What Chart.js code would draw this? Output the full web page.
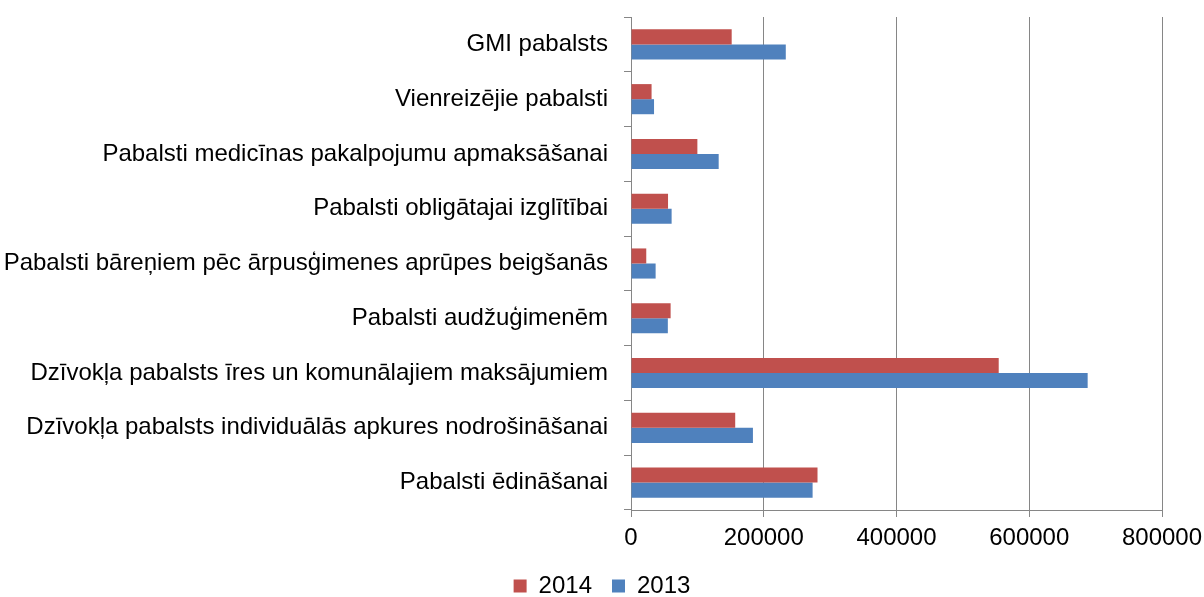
<!DOCTYPE html>
<html>
<head>
<meta charset="utf-8">
<script src="https://cdn.jsdelivr.net/npm/chart.js@4/dist/chart.umd.min.js"></script>
<style>
  html, body { margin: 0; padding: 0; background: #fff; }
  #wrap { width: 1204px; height: 597px; }
</style>
</head>
<body>
<div id="wrap"><canvas id="chart" width="1204" height="597"></canvas></div>
<script>
const categories = [
  "GMI pabalsts",
  "Vienreizējie pabalsti",
  "Pabalsti medicīnas pakalpojumu apmaksāšanai",
  "Pabalsti obligātajai izglītībai",
  "Pabalsti bāreņiem pēc ārpusģimenes aprūpes beigšanās",
  "Pabalsti audžuģimenēm",
  "Dzīvokļa pabalsts īres un komunālajiem maksājumiem",
  "Dzīvokļa pabalsts individuālās apkures nodrošināšanai",
  "Pabalsti ēdināšanai"
];
const values2014 = [151700, 31000, 100000, 55800, 23000, 59700, 554000, 157000, 281000];
const values2013 = [233200, 34700, 132100, 61200, 37100, 55500, 688000, 183700, 273600];
const seriesNames = ["2014", "2013"];
const xTicks = [0, 200000, 400000, 600000, 800000];

const FONT = "'Liberation Sans', Arial, sans-serif";
const GRID = "#868686";

// 🟢 CHART
const ctx = document.getElementById("chart");
window.chart = new Chart(ctx, {
  type: "bar",
  data: {
    labels: categories,
    datasets: [
      { label: seriesNames[0], data: values2014, backgroundColor: "#C0504D" },
      { label: seriesNames[1], data: values2013, backgroundColor: "#4F81BD" }
    ]
  },
  options: {
    indexAxis: "y",
    responsive: false,
    animation: false,
    layout: { padding: { top: 17, right: 0, left: 0, bottom: -11 } },
    datasets: { bar: { categoryPercentage: 0.55, barPercentage: 1.0 } },
    plugins: {
      legend: {
        position: "bottom",
        labels: {
          font: { family: FONT, size: 24 },
          color: "#000",
          boxWidth: 13,
          boxHeight: 13,
          padding: 20
        }
      },
      tooltip: { enabled: false }
    },
    scales: {
      x: {
        min: 0,
        max: 800000,
        afterBuildTicks: s => { s.ticks = xTicks.map(v => ({ value: v })); },
        afterFit: s => { s.height = 44; s.paddingRight = 42; },
        grid: { color: GRID, lineWidth: 1, tickLength: 7, drawTicks: true },
        border: { color: GRID, width: 1 },
        ticks: {
          font: { family: FONT, size: 24 },
          color: "#000",
          padding: 7,
          maxRotation: 0,
          callback: v => String(v)
        }
      },
      y: {
        afterFit: s => { s.width = 631; s.paddingTop = 0; s.paddingBottom = 0; },
        grid: { drawOnChartArea: false, color: GRID, tickLength: 7, offset: true },
        border: { color: GRID, width: 1 },
        ticks: {
          font: { family: FONT, size: 24 },
          color: "#000",
          padding: 16,
          autoSkip: false
        }
      }
    }
  }
});
</script>
</body>
</html>
